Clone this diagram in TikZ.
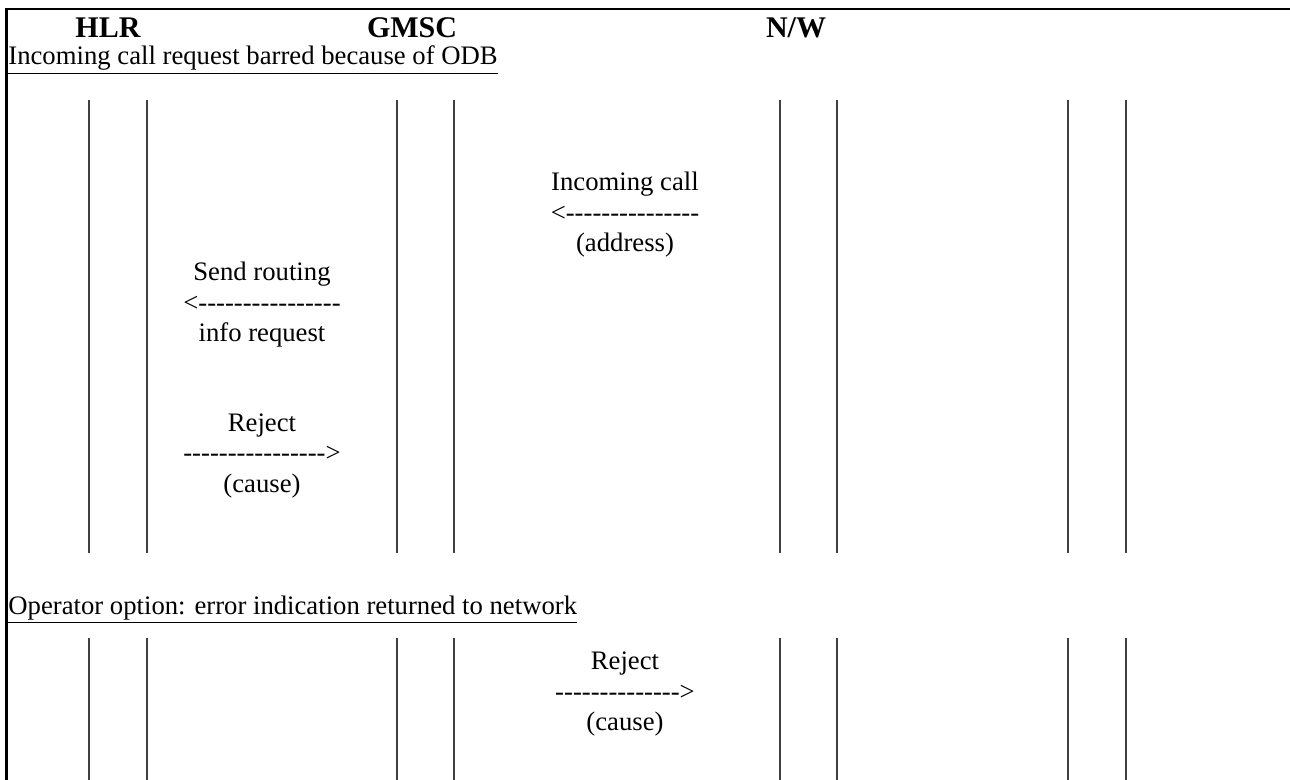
\documentclass[tikz,border=0pt]{standalone}
\usepackage{fontspec}
\setmainfont{Liberation Serif}
\usetikzlibrary{positioning}

% a row of hyphens that TeX will not turn into dashes
\newcommand{\dashes}[1]{\foreach \k in {1,...,#1}{-\kern0pt}}

\begin{document}
\begin{tikzpicture}[x=0.5pt, y=-0.5pt,
    entity/.style={font=\fontsize{15}{18}\selectfont\bfseries, inner sep=0pt},
    msg/.style={align=center, font=\fontsize{13.35}{15.25}\selectfont, inner sep=0pt},
    heading/.style={anchor=base west, font=\fontsize{13.35}{15.25}\selectfont, inner sep=0pt},
    life/.style={black!75, line width=0.6pt}]
    \useasboundingbox (0,0) rectangle (1290,780);

    % Frame
    \draw[line width=1.3pt] (6.5,780) -- (6.5,9) -- (1290,9);

    % Entities
    \node[entity] (hlr) at (108,28) {HLR};
    \node[entity] (gmsc) at (412,28) {GMSC};
    \node[entity] (nw) at (796,28) {N/W};

    % Case 1
    \node[heading] (odb) at (8,65) {\underline{Incoming call request barred because of ODB}};
    \foreach \x [count=\i] in {89,147,397,454,780,837,1068,1126} {
        \coordinate (top\i) at (\x,100);
        \coordinate (bot\i) at (\x,553);
        \draw[life] (top\i) -- (bot\i);
    }
    \node[msg] (call) at (625,215) {Incoming call\\<\dashes{15}\\(address)};
    \node[msg] (sri) at (262,305) {Send routing\\<\dashes{16}\\info request};
    \node[msg] (rej) at (262,456) {Reject\\\dashes{16}>\\(cause)};

    % Case 2
    \node[heading] (opt) at (8,614) {\underline{Operator option: error indication returned to network}};
    \foreach \x [count=\i] in {89,147,397,454,780,837,1068,1126} {
        \coordinate (utop\i) at (\x,638);
        \coordinate (ubot\i) at (\x,780);
        \draw[life] (utop\i) -- (ubot\i);
    }
    \node[msg] (rejnw) at (625,694) {Reject\\\dashes{14}>\\(cause)};
\end{tikzpicture}
\end{document}
